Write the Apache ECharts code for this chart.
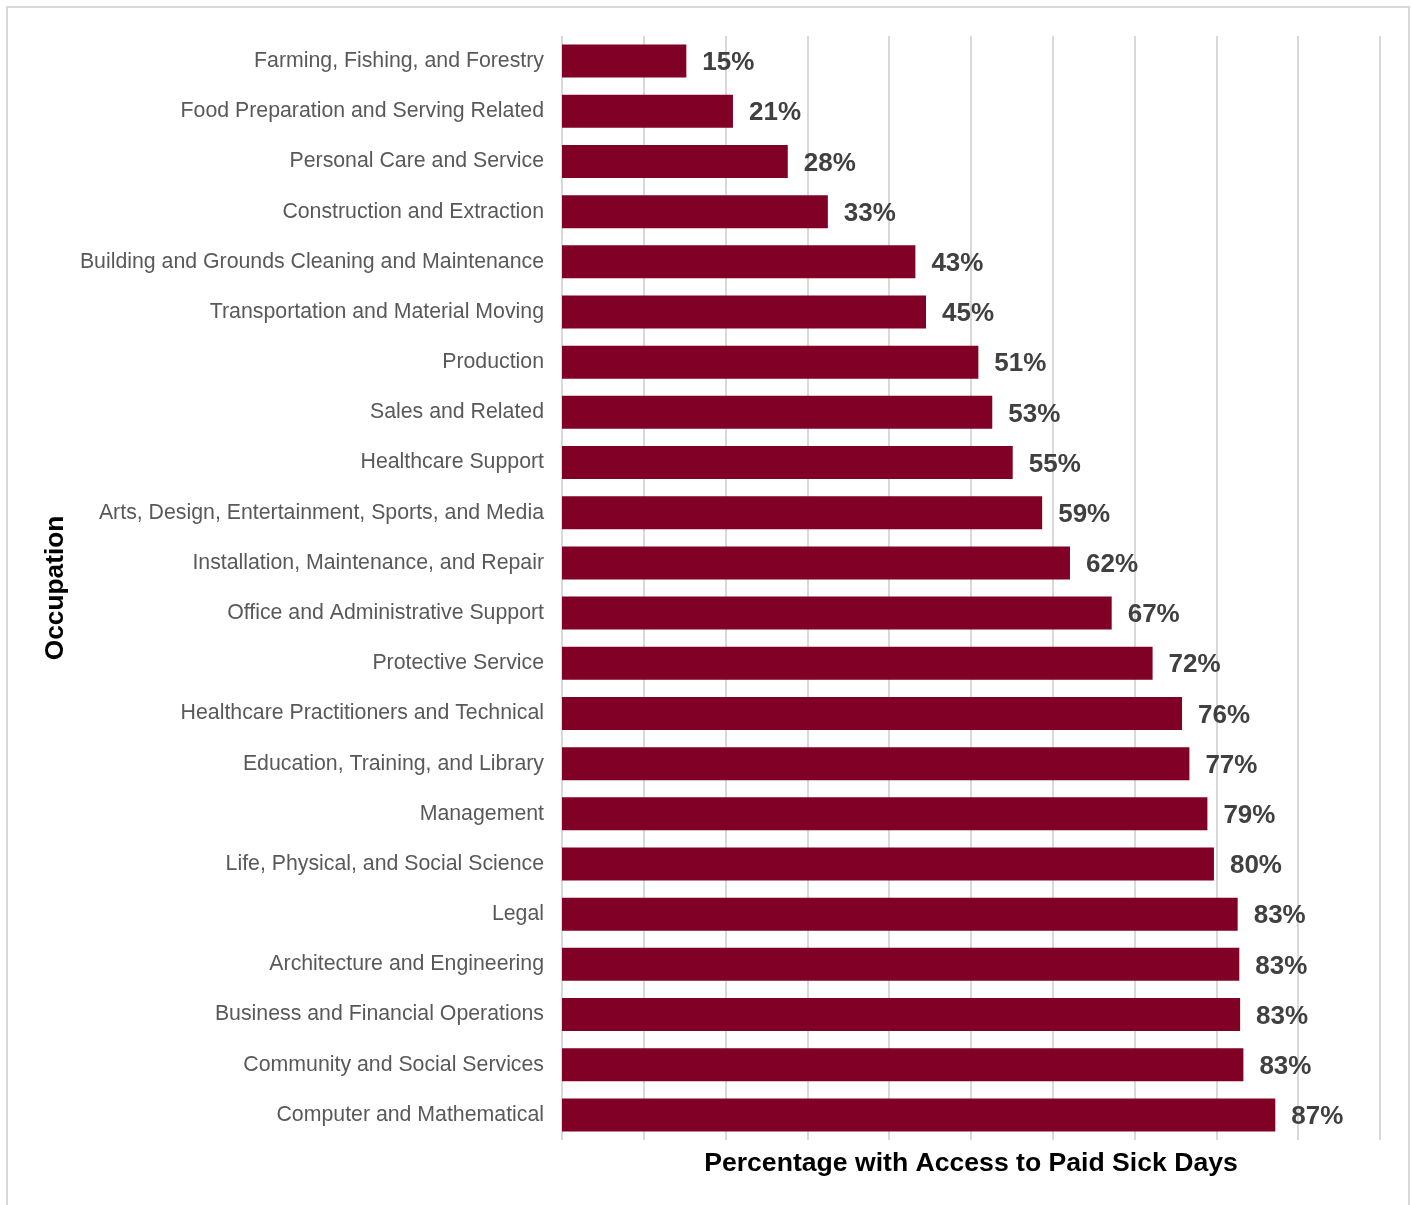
<!DOCTYPE html>
<html>
<head>
<meta charset="utf-8">
<script src="https://cdn.jsdelivr.net/npm/echarts@6/dist/echarts.min.js"></script>
<style>
  html, body { margin: 0; padding: 0; background: #ffffff; }
  #chart { width: 1411px; height: 1205px; }
</style>
</head>
<body>
<div id="chart"></div>
<script>
// Occupations, listed top to bottom
const occupations = [
  'Farming, Fishing, and Forestry',
  'Food Preparation and Serving Related',
  'Personal Care and Service',
  'Construction and Extraction',
  'Building and Grounds Cleaning and Maintenance',
  'Transportation and Material Moving',
  'Production',
  'Sales and Related',
  'Healthcare Support',
  'Arts, Design, Entertainment, Sports, and Media',
  'Installation, Maintenance, and Repair',
  'Office and Administrative Support',
  'Protective Service',
  'Healthcare Practitioners and Technical',
  'Education, Training, and Library',
  'Management',
  'Life, Physical, and Social Science',
  'Legal',
  'Architecture and Engineering',
  'Business and Financial Operations',
  'Community and Social Services',
  'Computer and Mathematical'
];

// Share of workers with access to paid sick days (%)
const paidSickShare = [
  15.2, 20.9, 27.6, 32.5, 43.2, 44.5, 50.9, 52.6, 55.1, 58.7, 62.1,
  67.2, 72.2, 75.8, 76.7, 78.9, 79.7, 82.6, 82.8, 82.9, 83.3, 87.2
];

const xAxisTitle = 'Percentage with Access to Paid Sick Days';
const yAxisTitle = 'Occupation';

const chart = echarts.init(document.getElementById('chart'), null, { renderer: 'canvas' });

chart.setOption({
  animation: false,
  backgroundColor: '#ffffff',
  grid: { left: 562, right: 31, top: 36, bottom: 65, containLabel: false },
  graphic: [{
    type: 'rect',
    shape: { x: 7, y: 7, width: 1402, height: 1220 },
    style: { fill: 'none', stroke: '#d9d9d9', lineWidth: 2 },
    silent: true,
    z: -1
  }],
  xAxis: {
    type: 'value',
    min: 0,
    max: 100,
    interval: 10,
    axisLine: { show: false },
    axisTick: { show: false },
    axisLabel: { show: false },
    splitLine: { show: true, lineStyle: { color: '#d9d9d9', width: 2 } },
    name: xAxisTitle,
    nameLocation: 'middle',
    nameGap: 10,
    nameTextStyle: {
      fontFamily: 'Liberation Sans, Arial, sans-serif',
      fontSize: 26.6,
      fontWeight: 'bold',
      color: '#000000',
      verticalAlign: 'top'
    }
  },
  yAxis: {
    type: 'category',
    data: occupations,
    inverse: true,
    axisLine: { show: false },
    axisTick: { show: false },
    axisLabel: {
      margin: 18,
      fontFamily: 'Liberation Sans, Arial, sans-serif',
      fontSize: 21.3,
      color: '#595959',
      padding: [2, 0, 0, 0]
    },
    name: yAxisTitle,
    nameLocation: 'middle',
    nameRotate: 90,
    nameGap: 491,
    nameTextStyle: {
      fontFamily: 'Liberation Sans, Arial, sans-serif',
      fontSize: 26.3,
      fontWeight: 'bold',
      color: '#000000'
    }
  },
  series: [{
    type: 'bar',
    data: paidSickShare,
    barWidth: 33,
    itemStyle: { color: '#800026' },
    label: {
      show: true,
      position: 'right',
      distance: 16,
      offset: [0, 2],
      formatter: p => Math.round(p.value) + '%',
      fontFamily: 'Liberation Sans, Arial, sans-serif',
      fontSize: 26,
      fontWeight: 'bold',
      color: '#404040'
    }
  }]
});
</script>
</body>
</html>
